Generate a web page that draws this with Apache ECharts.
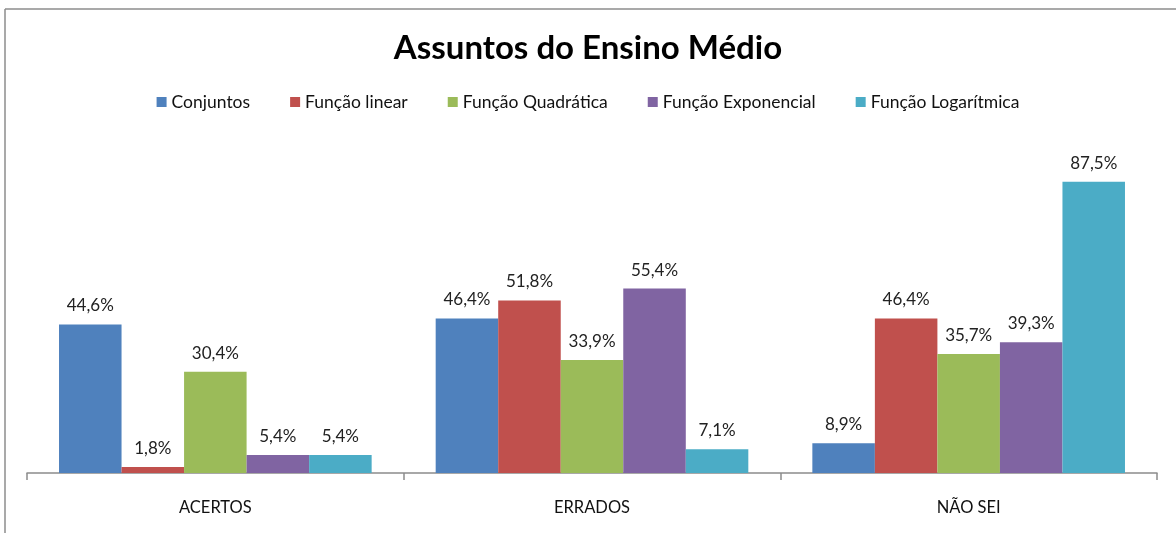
<!DOCTYPE html>
<html>
<head>
<meta charset="utf-8">
<script src="https://cdn.jsdelivr.net/npm/echarts@6/dist/echarts.min.js"></script>
<style>
  html, body { margin: 0; padding: 0; background: #fff; }
  #chart { width: 1176px; height: 533px; }
</style>
</head>
<body>
<div id="chart"></div>
<script>
// dados (%)
var categorias = ['ACERTOS', 'ERRADOS', 'NÃO SEI'];
var conjuntos = [44.6, 46.4, 8.9];
var funcaoLinear = [1.8, 51.8, 46.4];
var funcaoQuadratica = [30.4, 33.9, 35.7];
var funcaoExponencial = [5.4, 55.4, 39.3];
var funcaoLogaritmica = [5.4, 7.1, 87.5];

var nomes = ['Conjuntos', 'Função linear', 'Função Quadrática', 'Função Exponencial', 'Função Logarítmica'];
var valores = [conjuntos, funcaoLinear, funcaoQuadratica, funcaoExponencial, funcaoLogaritmica];
var cores = ['#4F81BD', '#C0504D', '#9BBB59', '#8064A2', '#4BACC6'];

var fonte = 'Lato, "Open Sans", sans-serif';

var grafico = echarts.init(document.getElementById('chart'));

var series = nomes.map(function (nome, i) {
    return {
        name: nome,
        type: 'bar',
        barGap: 0,
        barCategoryGap: '17%',
        data: valores[i],
        itemStyle: { color: cores[i] },
        label: {
            show: true,
            position: 'top',
            distance: 10,
            color: '#222',
            fontSize: 17,
            fontFamily: fonte,
            formatter: function (p) {
                return p.value.toFixed(1).replace('.', ',') + '%';
            }
        }
    };
});

grafico.setOption({
    animation: false,
    color: cores,
    title: {
        text: 'Assuntos do Ensino Médio',
        left: 'center',
        top: 27,
        textStyle: { fontSize: 33, fontWeight: 'bold', color: '#000', fontFamily: fonte }
    },
    legend: {
        top: 88,
        left: 'center',
        itemWidth: 10,
        itemHeight: 10,
        itemGap: 40,
        icon: 'rect',
        textStyle: { fontSize: 17.5, color: '#111', fontFamily: fonte },
        data: nomes
    },
    grid: {
        left: 27,
        right: 19,
        top: 140,
        bottom: 60
    },
    xAxis: {
        type: 'category',
        data: categorias,
        axisLine: { lineStyle: { color: '#8c8c8c', width: 1.5 } },
        axisTick: { show: true, length: 7, lineStyle: { color: '#8c8c8c', width: 1.5 } },
        axisLabel: { color: '#111', fontSize: 16.5, margin: 26, fontFamily: fonte }
    },
    yAxis: {
        type: 'value',
        min: 0,
        max: 100,
        show: false
    },
    graphic: [
        { type: 'line', shape: { x1: 5, y1: 9, x2: 1176, y2: 9 }, style: { stroke: '#8c8c8c', lineWidth: 1.5 } },
        { type: 'line', shape: { x1: 5, y1: 9, x2: 5, y2: 533 }, style: { stroke: '#8c8c8c', lineWidth: 1.5 } }
    ],
    series: series
});
</script>
</body>
</html>
